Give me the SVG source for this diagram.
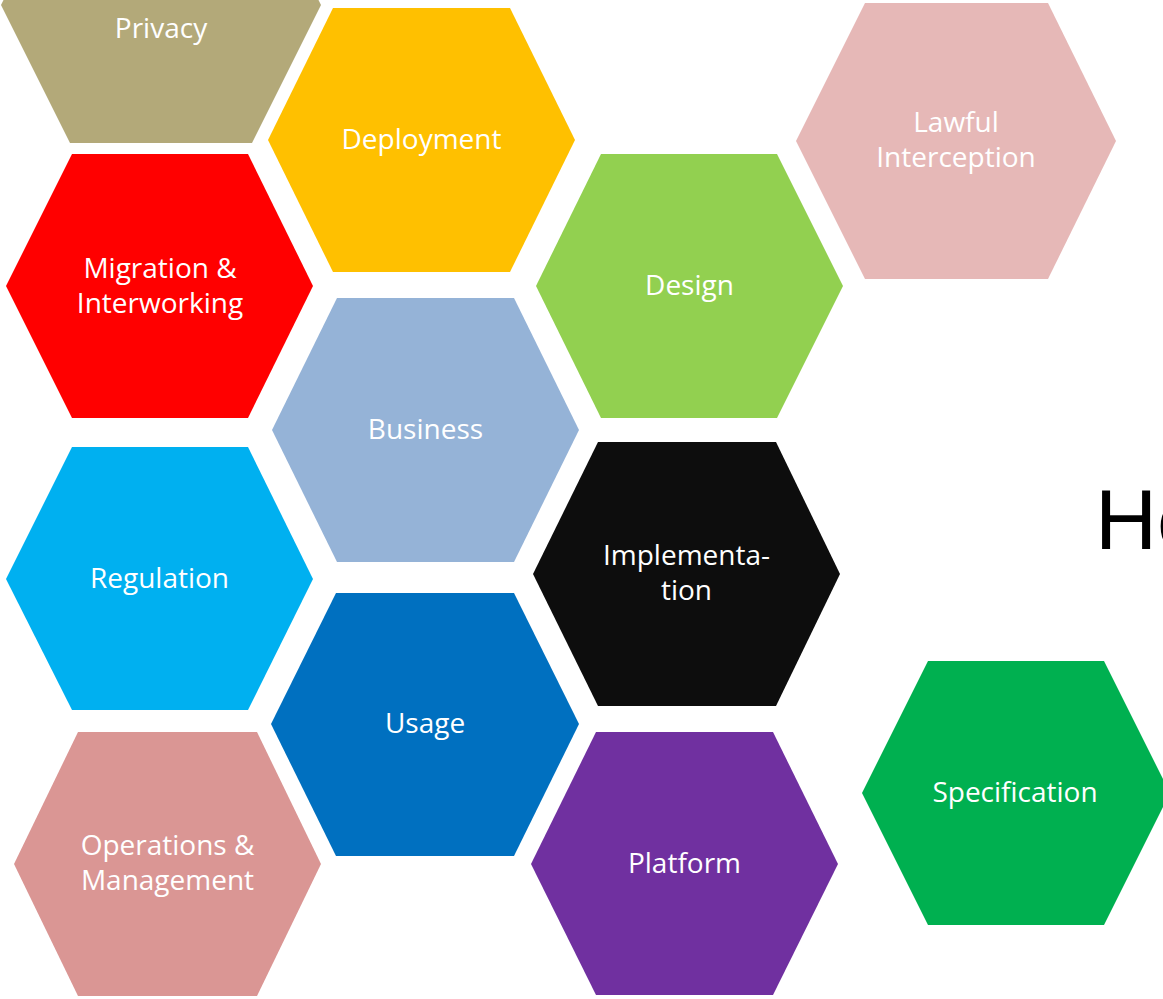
<svg xmlns="http://www.w3.org/2000/svg" width="1163" height="999" viewBox="0 0 1163 999">
<style>
  .lbl { font-family: "Open Sans", "Noto Sans", "Liberation Sans", sans-serif; font-size: 28px; fill: #FFFFFF; text-anchor: middle; }
  .big { font-family: "Liberation Sans", Arial, sans-serif; font-size: 86px; fill: #000000; }
</style>
<rect x="0" y="0" width="1163" height="999" fill="#FFFFFF"/>
<g id="nodes">
  <g id="privacy">
    <polygon points="1,5 70,143 252,143 321,5 252,-133 70,-133" fill="#B3A979"/>
    <text class="lbl" x="161" y="38">Privacy</text>
  </g>
  <g id="deployment">
    <polygon points="268,140 333,8 510,8 575,140 510,272 333,272" fill="#FFC000"/>
    <text class="lbl" x="421.5" y="149">Deployment</text>
  </g>
  <g id="lawful-interception">
    <polygon points="796,141 865,3 1048,3 1116,141 1048,279 865,279" fill="#E6B8B7"/>
    <text class="lbl" x="956" y="132">Lawful</text>
    <text class="lbl" x="956" y="167">Interception</text>
  </g>
  <g id="migration">
    <polygon points="6,286 72,154 248,154 313,286 248,418 72,418" fill="#FF0000"/>
    <text class="lbl" x="160" y="278">Migration &amp;</text>
    <text class="lbl" x="160" y="313">Interworking</text>
  </g>
  <g id="design">
    <polygon points="536,286 601,154 777,154 843,286 777,418 601,418" fill="#92D050"/>
    <text class="lbl" x="689.5" y="295">Design</text>
  </g>
  <g id="business">
    <polygon points="272,430 337,298 514,298 579,430 514,562 337,562" fill="#95B3D7"/>
    <text class="lbl" x="425.5" y="439">Business</text>
  </g>
  <g id="regulation">
    <polygon points="6,579 72,447 248,447 313,579 248,710 72,710" fill="#00B0F0"/>
    <text class="lbl" x="159.5" y="588">Regulation</text>
  </g>
  <g id="implementation">
    <polygon points="533,574 598,442 776,442 840,574 776,706 598,706" fill="#0D0D0D"/>
    <text class="lbl" x="686.5" y="565">Implementa-</text>
    <text class="lbl" x="686.5" y="600">tion</text>
  </g>
  <g id="usage">
    <polygon points="271,724 336,593 514,593 579,724 514,856 336,856" fill="#0070C0"/>
    <text class="lbl" x="425" y="733">Usage</text>
  </g>
  <g id="operations">
    <polygon points="14,864 78,732 257,732 321,864 257,996 78,996" fill="#DA9694"/>
    <text class="lbl" x="167.5" y="855">Operations &amp;</text>
    <text class="lbl" x="167.5" y="890">Management</text>
  </g>
  <g id="platform">
    <polygon points="531,864 596,732 773,732 838,864 773,995 596,995" fill="#7030A0"/>
    <text class="lbl" x="684.5" y="873">Platform</text>
  </g>
  <g id="specification">
    <polygon points="862,793 928,661 1104,661 1170,793 1104,925 928,925" fill="#00B050"/>
    <text class="lbl" x="1015" y="802">Specification</text>
  </g>
  <g id="title">
    <text class="big" x="1095" y="549">He</text>
  </g>
</g>
<g id="connectors"/>
</svg>
